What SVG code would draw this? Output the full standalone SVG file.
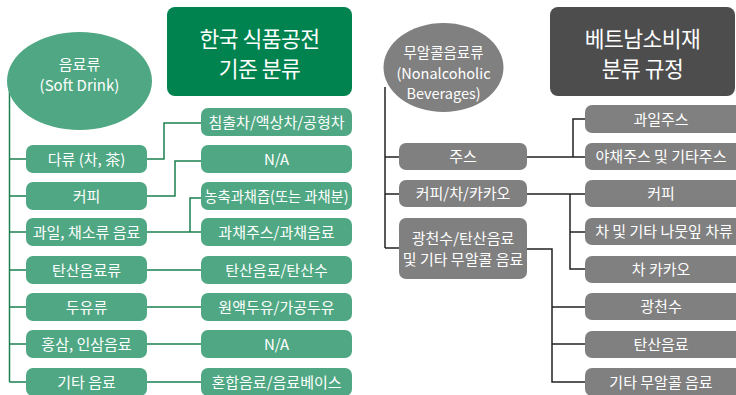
<svg xmlns="http://www.w3.org/2000/svg" width="736" height="395" viewBox="0 0 736 395">
<style>
text{font-family:"Noto Sans CJK KR","Liberation Sans",sans-serif;fill:#fff;text-anchor:middle}
.t{font-size:15px}
.h{font-size:21.5px;letter-spacing:-0.5px}
.e{font-size:15px}
.e2{font-size:14.5px}
.gn{fill:#4fa883}
.yn{fill:#808080}
.gl{fill:none;stroke:#1d8050;stroke-width:1.5}
.kl{fill:none;stroke:#222;stroke-width:1.5}
</style>
<rect width="736" height="395" fill="#fff"/>
<g id="connectors">
<g class="gl">
<path d="M9.5 85V382"/>
<path d="M9.5 159H26M9.5 196H26M9.5 232H26M9.5 270H26M9.5 307H26M9.5 344H26M9.5 382H26"/>
<path d="M147 159H164V123H201"/>
<path d="M147 196H175V161H201"/>
<path d="M147 232H201M190 232V198H201"/>
<path d="M147 270H201M147 307H201M147 344H201M147 382H201"/>
</g>
<g class="kl">
<path d="M385 87V248"/>
<path d="M385 157H399M385 194H399M385 248H399"/>
<path d="M527 157H585M573 157V119H585"/>
<path d="M527 194H585M570 194V269H585M570 232H585"/>
<path d="M527 249H552V382H585M552 307H585M552 344H585"/>
</g>
</g>
<g id="kr-root"><ellipse cx="79.5" cy="81" rx="72.5" ry="49" class="gn"/><text class="e" x="79.5" y="70">음료류</text><text class="e" x="79.5" y="91">(Soft Drink)</text></g>
<g id="kr-title"><rect x="167" y="7" width="185" height="89" rx="8" fill="#00834f"/><text class="h" x="259.5" y="47">한국 식품공전</text><text class="h" x="259.5" y="77">기준 분류</text></g>
<g id="kr-a1"><rect x="26" y="145" width="121" height="28" rx="7" class="gn"/><text class="t" x="86.5" y="164.5">다류 (차, 茶)</text></g>
<g id="kr-a2"><rect x="26" y="182" width="121" height="28" rx="7" class="gn"/><text class="t" x="86.5" y="201.5">커피</text></g>
<g id="kr-a3"><rect x="26" y="218" width="121" height="28" rx="7" class="gn"/><text class="t" x="86.5" y="237.5">과일, 채소류 음료</text></g>
<g id="kr-a4"><rect x="26" y="256" width="121" height="28" rx="7" class="gn"/><text class="t" x="86.5" y="275.5">탄산음료류</text></g>
<g id="kr-a5"><rect x="26" y="293" width="121" height="28" rx="7" class="gn"/><text class="t" x="86.5" y="312.5">두유류</text></g>
<g id="kr-a6"><rect x="26" y="330" width="121" height="28" rx="7" class="gn"/><text class="t" x="86.5" y="349.5">홍삼, 인삼음료</text></g>
<g id="kr-a7"><rect x="26" y="368" width="121" height="28" rx="7" class="gn"/><text class="t" x="86.5" y="387.5">기타 음료</text></g>
<g id="kr-b1"><rect x="201" y="108" width="151" height="28" rx="7" class="gn"/><text class="t" x="276.5" y="127.5">침출차/액상차/공형차</text></g>
<g id="kr-b2"><rect x="201" y="145" width="151" height="28" rx="7" class="gn"/><text class="t" x="276.5" y="164.5">N/A</text></g>
<g id="kr-b3"><rect x="201" y="182" width="151" height="28" rx="7" class="gn"/><text class="t" x="276.5" y="201.5" textLength="144" lengthAdjust="spacingAndGlyphs">농축과채즙(또는 과채분)</text></g>
<g id="kr-b4"><rect x="201" y="218" width="151" height="28" rx="7" class="gn"/><text class="t" x="276.5" y="237.5">과채주스/과채음료</text></g>
<g id="kr-b5"><rect x="201" y="256" width="151" height="28" rx="7" class="gn"/><text class="t" x="276.5" y="275.5">탄산음료/탄산수</text></g>
<g id="kr-b6"><rect x="201" y="293" width="151" height="28" rx="7" class="gn"/><text class="t" x="276.5" y="312.5">원액두유/가공두유</text></g>
<g id="kr-b7"><rect x="201" y="330" width="151" height="28" rx="7" class="gn"/><text class="t" x="276.5" y="349.5">N/A</text></g>
<g id="kr-b8"><rect x="201" y="368" width="151" height="28" rx="7" class="gn"/><text class="t" x="276.5" y="387.5">혼합음료/음료베이스</text></g>
<g id="vn-root"><ellipse cx="443.5" cy="67.5" rx="60" ry="44.5" class="yn"/><text class="e2" x="443.5" y="58">무알콜음료류</text><text class="e2" x="443.5" y="79">(Nonalcoholic</text><text class="e2" x="443.5" y="99">Beverages)</text></g>
<g id="vn-title"><rect x="550" y="7" width="185" height="89" rx="8" fill="#4d4d4d"/><text class="h" x="642.5" y="47">베트남소비재</text><text class="h" x="642.5" y="77">분류 규정</text></g>
<g id="vn-a1"><rect x="399" y="143" width="128" height="27" rx="7" class="yn"/><text class="t" x="463" y="162">주스</text></g>
<g id="vn-a2"><rect x="399" y="180" width="128" height="27" rx="7" class="yn"/><text class="t" x="463" y="199">커피/차/카카오</text></g>
<g id="vn-a3"><rect x="399" y="218" width="128" height="61" rx="7" class="yn"/><text class="t" x="463" y="244">광천수/탄산음료</text><text class="t" x="463" y="265">및 기타 무알콜 음료</text></g>
<g id="vn-b1"><rect x="585" y="105" width="165" height="28" rx="7" class="yn"/><text class="t" x="661" y="124.5">과일주스</text></g>
<g id="vn-b2"><rect x="585" y="143" width="165" height="27" rx="7" class="yn"/><text class="t" x="661" y="162">야채주스 및 기타주스</text></g>
<g id="vn-b3"><rect x="585" y="180" width="165" height="27" rx="7" class="yn"/><text class="t" x="661" y="199">커피</text></g>
<g id="vn-b4"><rect x="585" y="218" width="165" height="27" rx="7" class="yn"/><text class="t" x="664" y="237">차 및 기타 나뭇잎 차류</text></g>
<g id="vn-b5"><rect x="585" y="256" width="165" height="27" rx="7" class="yn"/><text class="t" x="661" y="275">차 카카오</text></g>
<g id="vn-b6"><rect x="585" y="293" width="165" height="27" rx="7" class="yn"/><text class="t" x="661" y="312">광천수</text></g>
<g id="vn-b7"><rect x="585" y="331" width="165" height="27" rx="7" class="yn"/><text class="t" x="661" y="350">탄산음료</text></g>
<g id="vn-b8"><rect x="585" y="368" width="165" height="28" rx="7" class="yn"/><text class="t" x="661" y="387.5">기타 무알콜 음료</text></g>
</svg>
